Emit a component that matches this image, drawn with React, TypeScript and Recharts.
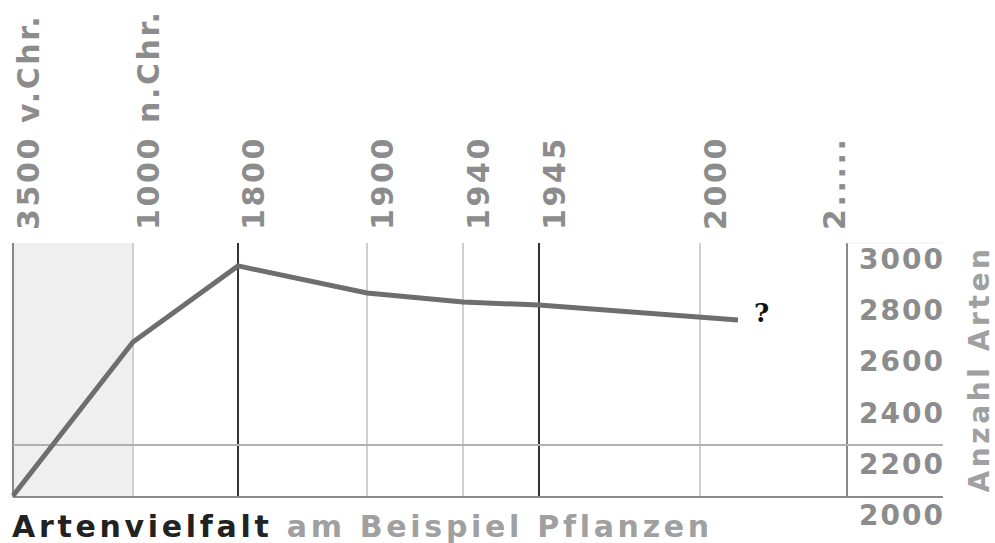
import { LineChart, Line, XAxis, YAxis, ReferenceLine, ReferenceArea } from 'recharts';

// schematic x positions (axis units) for each labelled era
const xLabels = ['3500 v.Chr.', '1000 n.Chr.', '1800', '1900', '1940', '1945', '2000', '2.....'];
const xPos = [0, 120, 225, 354, 450, 526, 687, 834];
const darkLines = ['1800', '1945'];

// species count ("Anzahl Arten")
const linePos = [0, 120, 225, 354, 450, 526, 725];
const artenValues = [2075, 2676, 2973, 2867, 2832, 2820, 2762];

const yTicks = [2000, 2200, 2400, 2600, 2800, 3000];
const yTop = 3062.5;
const baseValue = 2070;
const gridValue = 2273;

const data = linePos.map((p, i) => ({ pos: p, arten: artenValues[i] }));

const FONT = '"DejaVu Sans", Verdana, sans-serif';

function XTick(props: any) {
  const { x, payload } = props;
  const idx = xPos.indexOf(payload.value);
  const last = idx === xPos.length - 1;
  return (
    <text
      transform={`translate(${x + (last ? -2 : 26)}, 230) rotate(-90)`}
      fontFamily={FONT}
      fontWeight="bold"
      fontSize={30}
      letterSpacing={2.6}
      fill="#8c8c8c"
      textAnchor="start"
    >
      {xLabels[idx]}
    </text>
  );
}

function YTick(props: any) {
  const { x, y, payload } = props;
  return (
    <text
      x={x + 98}
      y={y}
      dy={10}
      fontFamily={FONT}
      fontWeight="bold"
      fontSize={28}
      letterSpacing={2}
      fill="#8c8c8c"
      textAnchor="end"
    >
      {payload.value}
    </text>
  );
}

function QuestionMark(props: any) {
  const { x, y, index } = props;
  if (index !== data.length - 1) return null;
  return (
    <text x={x + 16} y={y + 2} fontFamily='"DejaVu Serif", serif' fontWeight="bold" fontSize={26} fill="#111">
      ?
    </text>
  );
}

export default function App() {
  return (
    <div style={{ position: 'absolute', left: 0, top: 0, width: 995, height: 543, background: '#fff' }}>
      <LineChart width={995} height={543} data={data} margin={{ top: 213, right: 48, bottom: 28, left: 13 }}>
        <XAxis
          dataKey="pos"
          type="number"
          domain={[0, 834]}
          ticks={xPos}
          orientation="top"
          height={30}
          axisLine={false}
          tickLine={false}
          tick={<XTick />}
          interval={0}
        />
        <YAxis
          type="number"
          domain={[2000, yTop]}
          ticks={yTicks}
          orientation="right"
          width={100}
          axisLine={false}
          tickLine={false}
          tickSize={0}
          tickMargin={0}
          tick={<YTick />}
          interval={0}
          label={{
            content: (p: any) => {
              const vb = p.viewBox;
              return (
                <text
                  transform={`translate(${vb.x + 142}, 369) rotate(-90)`}
                  fontFamily={FONT}
                  fontWeight="bold"
                  fontSize={28}
                  letterSpacing={3.6}
                  fill="#a0a0a0"
                  textAnchor="middle"
                >
                  Anzahl Arten
                </text>
              );
            },
          }}
        />
        <ReferenceArea x1={xPos[0]} x2={xPos[1]} y1={baseValue} y2={yTop} fill="#efefef" fillOpacity={1} stroke="none" />
        {xPos.map((p, i) => (
          <ReferenceLine
            key={`v-${i}`}
            segment={[{ x: p, y: baseValue }, { x: p, y: yTop }]}
            stroke={darkLines.includes(xLabels[i]) ? '#333' : i === 0 || i === xPos.length - 1 ? '#888' : '#d0d0d0'}
            strokeWidth={2}
          />
        ))}
        <ReferenceLine
          segment={[{ x: 0, y: gridValue }, { x: 930, y: gridValue }]}
          stroke="#b0b0b0"
          strokeWidth={2}
          ifOverflow="visible"
        />
        <ReferenceLine
          segment={[{ x: 0, y: baseValue }, { x: 930, y: baseValue }]}
          stroke="#8a8a8a"
          strokeWidth={2}
          ifOverflow="visible"
        />
        <ReferenceLine
          segment={[{ x: 834, y: yTop }, { x: 930, y: yTop }]}
          stroke="#eeeeee"
          strokeWidth={1}
          ifOverflow="visible"
        />
        <Line
          dataKey="arten"
          stroke="#6e6e6e"
          strokeWidth={5}
          dot={false}
          activeDot={false}
          isAnimationActive={false}
          label={<QuestionMark />}
        />
      </LineChart>
      <svg width={995} height={543} style={{ position: 'absolute', left: 0, top: 0, pointerEvents: 'none' }}>
        <text x={12} y={537} fontFamily={FONT} fontWeight="bold" fontSize={30} letterSpacing={3.7}>
          <tspan fill="#222">Artenvielfalt</tspan>
          <tspan fill="#a0a0a0"> am Beispiel Pflanzen</tspan>
        </text>
      </svg>
    </div>
  );
}
